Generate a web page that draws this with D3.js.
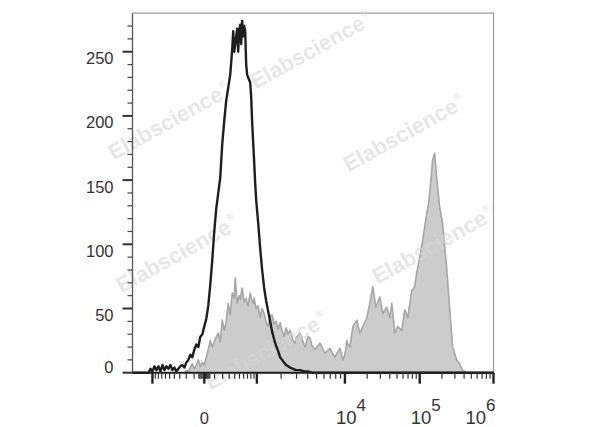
<!DOCTYPE html>
<html><head><meta charset="utf-8">
<script src="https://cdn.jsdelivr.net/npm/d3@7"></script>
<style>html,body{margin:0;padding:0;background:#fff;} svg{display:block;font-family:"Liberation Sans",Arial,Helvetica,sans-serif;}</style>
</head><body><svg id="c" width="600" height="427"></svg>
<script>
// ---- data (fluorescence value, event count) ----
const blackValues = [-2000, -1155, -1075, -1000, -928, -861, -797, -737, -680, -627, -576, -528, -482, -440, -399, -361, -324, -290, -258, -227, -198, -171, -145, -121, -98, -76, -55, -36, -17, 0,
  17, 35, 54, 75, 96, 119, 143, 168, 195, 223, 253, 285, 318, 354,
  372, 391, 411, 431, 451, 472, 494, 517, 540, 563, 588, 613, 639, 665, 692, 720, 749, 779, 809, 840, 872, 905, 939, 974,
  1040, 1105, 1172, 1243, 1317, 1394, 1476, 1561, 1650, 1744, 1842, 1945, 2052, 2165, 2284, 2408, 2538,
  2744, 2966, 3287, 3640, 4027, 4453, 1000000];
const blackCounts = [0, 0, 3, 1, 5, 2, 5, 1, 6, 2, 5, 3, 6, 2, 4, 1, 3, 5, 6, 4, 8, 10, 14, 12, 18, 22, 20, 28, 30, 36,
  42, 52, 68, 88, 110, 128, 140, 152, 178, 196, 212, 222, 232, 252,
  266, 250, 256, 262, 268, 250, 266, 271, 256, 274, 262, 270, 266, 240, 232, 230, 228, 226, 215, 195, 180, 165, 148, 135,
  117, 97, 80, 66, 56, 48, 40, 32, 26, 21, 17, 12, 10, 8, 6, 5, 4,
  3, 2, 2, 1, 1, 0, 0];

const grayValues = [-227, -198, -171, -145, -121, -98, -76, -55, -36, -17, 0, 17, 35, 54, 75, 96, 119, 143, 168, 195, 223, 253, 285, 318, 354,
  391, 411, 451, 494, 517, 563, 588, 613, 665, 692, 720, 779, 840, 872, 905, 974,
  1040, 1105, 1172, 1243, 1317, 1394, 1476, 1561, 1650, 1744, 1842, 1945, 2052, 2165, 2284, 2408, 2538,
  2744, 2890, 2966, 3287, 3640, 3733, 4027, 4235, 4453, 4799, 5433, 6145, 6947, 7849, 8240, 8863, 9530, 10000,
  10645, 10982, 11687, 12830, 14526, 15938, 17486, 19782, 21696, 23794, 26089, 29495, 32337, 36549, 40064, 42589, 46677,
  51154, 57791, 63327, 69394, 78387, 85888, 91281, 100000,
  109798, 124370, 132374, 140868, 149934, 159572, 169822, 186460, 204713, 231841, 254527, 279439, 316476, 347466, 381414, 431980];
const grayCounts = [0, 2, 1, 4, 7, 3, 6, 10, 5, 8, 6, 12, 18, 25, 20, 24, 28, 31, 24, 41, 33, 40, 54, 45, 62,
  58, 74, 54, 60, 57, 66, 60, 55, 58, 54, 52, 62, 55, 54, 58, 50,
  52, 43, 50, 46, 40, 36, 44, 45, 38, 40, 34, 39, 33, 28, 35, 30, 33,
  25, 23, 27, 31, 22, 20, 28, 27, 21, 18, 23, 15, 19, 12, 15, 19, 10, 14,
  25, 22, 20, 36, 41, 31, 36, 43, 54, 67, 51, 59, 46, 51, 43, 54, 31,
  36, 33, 49, 43, 64, 67, 78, 90,
  103, 124, 132, 148, 166, 171, 152, 129, 116, 82, 51, 20, 10, 7, 2, 0];

// ---- axis definitions ----
const yMajorTicks = [0, 50, 100, 150, 200, 250];
const yMinorTicks = [10, 20, 30, 40, 60, 70, 80, 90, 110, 120, 130, 140, 160, 170, 180, 190, 210, 220, 230, 240, 260, 270];
const xMajorTicks = [-1000, 0, 1000, 10000, 100000, 1000000];
const xMinorTicks = [-900, -800, -700, -600, -500, -400, -300, -200, -100,
  -50, -40, -30, -20, -10, 10, 20, 30, 40, 50,
  100, 200, 300, 400, 500, 600, 700, 800, 900,
  2000, 3000, 4000, 5000, 6000, 7000, 8000, 9000,
  20000, 30000, 40000, 50000, 60000, 70000, 80000, 90000,
  200000, 300000, 400000, 500000, 600000, 700000, 800000, 900000];
const xLabelValues = [0, 10000, 100000, 1000000];
const xLabelBase = ["0", "10", "10", "10"];
const xLabelExp = ["", "4", "5", "6"];

// ---- layout ----
const L = 132.5, R = 493.5, T = 13.2, B = 372.7, W = R - L;
const svg = d3.select("#c");

const xBreaks = [-2000, -1000, 0, 1000, 10000, 100000, 1000000];
const xFrac = [0, 0.05525, 0.1989, 0.34448, 0.5884, 0.79558, 1];
const x = d3.scaleSymlog().constant(300).domain(xBreaks).range(xFrac.map(f => L + f * W));
const y = d3.scaleLinear().domain([0, 280]).range([B, T]);

// frame (top/right light)
svg.append("path").attr("d", `M${L},${T}H${R}V${B}`).attr("fill", "none").attr("stroke", "#9a9a9a").attr("stroke-width", 1.2);

// gray histogram
const grayData = grayValues.map((v, i) => [v, grayCounts[i]]);
svg.append("path").datum(grayData)
  .attr("d", d3.area().x(d => x(d[0])).y0(y(0)).y1(d => y(d[1])))
  .attr("fill", "#cccccc").attr("stroke", "#a6a6a6").attr("stroke-width", 1.6).attr("stroke-linejoin", "round");

// watermarks
const wm = [[311, 50], [169, 121], [404, 133], [177, 254], [433, 245], [266, 351]];
wm.forEach(([cx, cy]) => {
  const t = svg.append("text").attr("transform", `translate(${cx},${cy}) rotate(-29)`)
    .attr("text-anchor", "middle").attr("dy", "0.35em")
    .attr("font-size", 22).attr("font-weight", "bold")
    .attr("fill", "#d6d6d6").attr("fill-opacity", 0.6);
  t.append("tspan").text("Elabscience");
  t.append("tspan").attr("font-size", 10).attr("dy", -11).attr("dx", 1).text("®");
});

// black histogram
const blackData = blackValues.map((v, i) => [v, blackCounts[i]]);
svg.append("path").datum(blackData)
  .attr("d", d3.line().x(d => x(d[0])).y(d => y(d[1])))
  .attr("fill", "none").attr("stroke", "#1e1e1e").attr("stroke-width", 2.4).attr("stroke-linejoin", "round");

// y axis
const gy = svg.append("g");
gy.append("line").attr("x1", L).attr("x2", L).attr("y1", T).attr("y2", B).attr("stroke", "#555").attr("stroke-width", 1.3);
gy.selectAll(".ymin").data(yMinorTicks).join("line")
  .attr("x1", L - 5).attr("x2", L).attr("y1", d => y(d)).attr("y2", d => y(d))
  .attr("stroke", "#444").attr("stroke-width", 1.2);
gy.selectAll(".ymaj").data(yMajorTicks).join("line")
  .attr("x1", L - 10).attr("x2", L).attr("y1", d => y(d)).attr("y2", d => y(d))
  .attr("stroke", "#333").attr("stroke-width", 2);
gy.selectAll("text").data(yMajorTicks).join("text")
  .attr("x", L - 19).attr("y", d => d === 0 ? y(d) : y(d) + 12.5)
  .attr("text-anchor", "end").attr("font-size", 16.5).attr("fill", "#333")
  .text(d => d);

// x axis
const gx = svg.append("g");
gx.append("line").attr("x1", L).attr("x2", R).attr("y1", B).attr("y2", B).attr("stroke", "#222").attr("stroke-width", 2);
gx.selectAll(".xmin").data(xMinorTicks).join("line")
  .attr("x1", d => x(d)).attr("x2", d => x(d)).attr("y1", B).attr("y2", B + 6)
  .attr("stroke", "#333").attr("stroke-width", 1.2);
gx.selectAll(".xmaj").data(xMajorTicks).join("line")
  .attr("x1", d => x(d)).attr("x2", d => x(d)).attr("y1", B).attr("y2", B + 11)
  .attr("stroke", "#222").attr("stroke-width", 2.4);
xLabelValues.forEach((v, i) => {
  const px = x(v);
  const t = gx.append("text").attr("y", 423.5).attr("font-size", 18.5).attr("fill", "#333");
  if (xLabelExp[i] === "") {
    t.attr("x", px).attr("font-size", 16.5).attr("text-anchor", "middle").text(xLabelBase[i]);
  } else {
    if (v === 1000000) t.attr("x", px + 2).attr("text-anchor", "end");
    else t.attr("x", px - 9).attr("text-anchor", "start");
    t.append("tspan").text(xLabelBase[i]);
    t.append("tspan").attr("dy", -13).attr("font-size", 17).text(xLabelExp[i]);
  }
});
</script>
</body></html>
